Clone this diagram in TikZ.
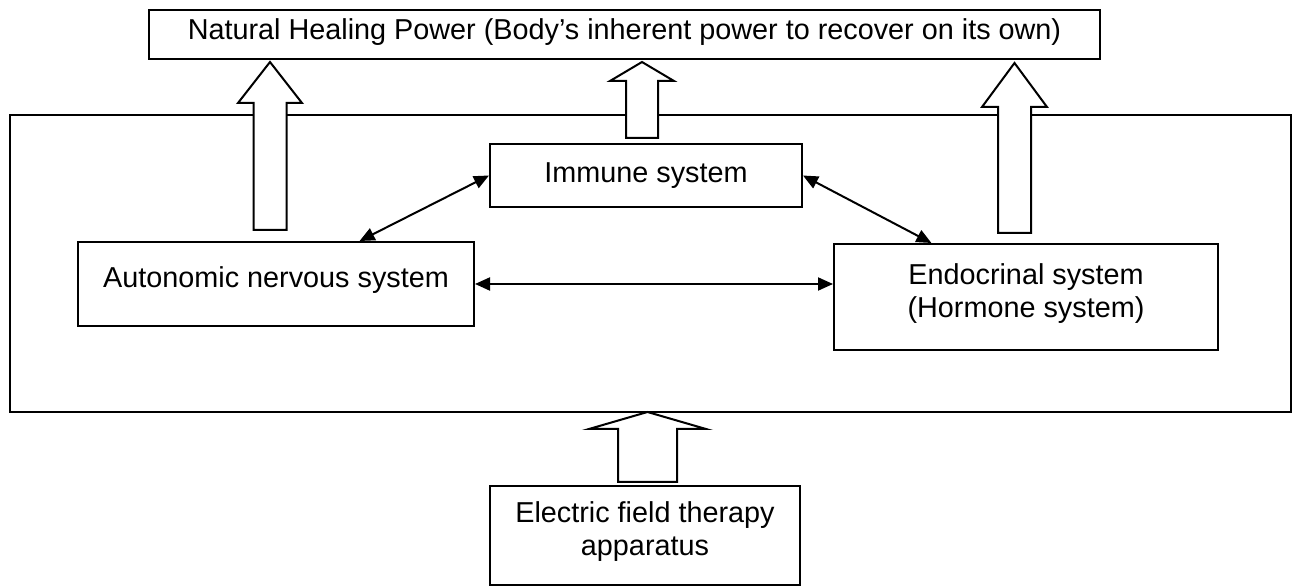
\documentclass[tikz,border=0pt]{standalone}
\usepackage{fontspec}
\setmainfont{Liberation Sans}
\usetikzlibrary{arrows.meta,calc}

\tikzset{
  box/.style={draw, line width=1pt, inner sep=0pt, align=center,
    font=\fontsize{14.4}{16.5}\selectfont},
  link/.style={line width=1pt,
    {Triangle[length=7.5pt,width=6.5pt]}-{Triangle[length=7.5pt,width=6.5pt]}},
  hollow/.style={draw, line width=1pt, fill=white, line join=miter},
}
% hollow up arrow: x centre, bottom, head base, tip, half shaft, half head
\newcommand{\hollowup}[6]{%
  \draw[hollow] (#1-#5,#2) -- (#1+#5,#2) -- (#1+#5,#3) -- (#1+#6,#3)
    -- (#1,#4) -- (#1-#6,#3) -- (#1-#5,#3) -- cycle;}

\begin{document}
\begin{tikzpicture}[x=0.5pt, y=-0.5pt]
  \useasboundingbox (0,0) rectangle (1298,588);

  \node[box, minimum width=475.5pt, minimum height=24.5pt, text depth=5pt] (power) at (624.5,34.5)
    {Natural Healing Power (Body’s inherent power to recover on its own)};
  \node[box, minimum width=640.5pt, minimum height=148.5pt] (body) at (650.5,263.5) {};

  % the three systems
  \node[box, minimum width=156pt, minimum height=31.5pt] (immune) at (646,175.5) {Immune system};
  \node[box, minimum width=198pt, minimum height=42pt, text depth=7pt] (auto) at (276,284)
    {Autonomic nervous system};
  \node[box, minimum width=192pt, minimum height=53pt, text depth=6.5pt] (endo) at (1026,297)
    {Endocrinal system\\(Hormone system)};

  \node[box, minimum width=155pt, minimum height=49.5pt, text depth=6.5pt] (device) at (645,535.5)
    {Electric field therapy\\apparatus};

  \draw[link] (immune.west) -- ($(auto.north west)!0.71!(auto.north east)$);
  \draw[link] (immune.east) -- ($(endo.north west)!0.255!(endo.north east)$);
  \draw[link] (auto.east) -- (auto.east -| endo.west);

  % big hollow arrows
  \hollowup{270}{230}{103}{62}{16.5}{32}
  \hollowup{642}{138}{81}{62}{16}{32}
  \hollowup{1014.5}{233}{107}{63}{16.5}{32.5}
  \hollowup{647.5}{482}{429}{412}{29.5}{58.5}
\end{tikzpicture}
\end{document}
